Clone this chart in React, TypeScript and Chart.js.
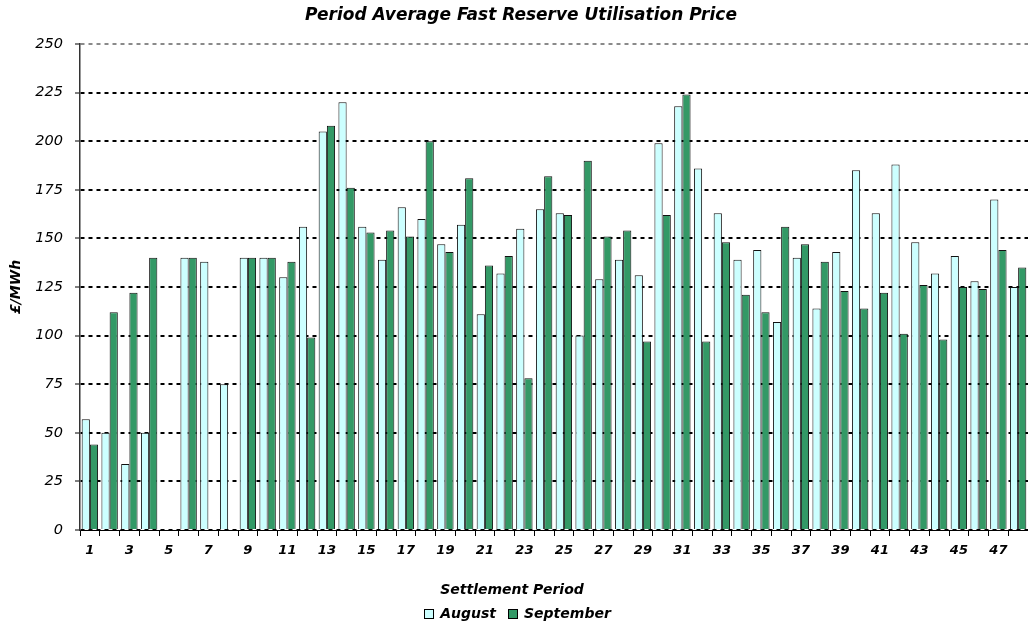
import React, { useEffect, useRef } from 'react';
import { Chart, registerables } from 'chart.js';

Chart.register(...registerables);

const chartTitle = 'Period Average Fast Reserve Utilisation Price';
const xAxisTitle = 'Settlement Period';
const yAxisTitle = '£/MWh';

const categories = [
  '1', '2', '3', '4', '5', '6', '7', '8', '9', '10', '11', '12',
  '13', '14', '15', '16', '17', '18', '19', '20', '21', '22', '23', '24',
  '25', '26', '27', '28', '29', '30', '31', '32', '33', '34', '35', '36',
  '37', '38', '39', '40', '41', '42', '43', '44', '45', '46', '47', '48',
];

const shownTickLabels = [
  '1', '3', '5', '7', '9', '11', '13', '15', '17', '19', '21', '23',
  '25', '27', '29', '31', '33', '35', '37', '39', '41', '43', '45', '47',
];

const august = [
  57, 50, 34, 50, null, 140, 138, 75, 140, 140, 130, 156,
  205, 220, 156, 139, 166, 160, 147, 157, 111, 132, 155, 165,
  163, 100, 129, 139, 131, 199, 218, 186, 163, 139, 144, 107,
  140, 114, 143, 185, 163, 188, 148, 132, 141, 128, 170, 125,
];

const september = [
  44, 112, 122, 140, null, 140, null, null, 140, 140, 138, 99,
  208, 176, 153, 154, 151, 200, 143, 181, 136, 141, 78, 182,
  162, 190, 151, 154, 97, 162, 224, 97, 148, 121, 112, 156,
  147, 138, 123, 114, 122, 101, 126, 98, 125, 124, 144, 135,
];

const seriesNames = ['August', 'September'];
const seriesColors = ['#CCFFFF', '#339966'];

const yMin = 0;
const yMax = 250;
const yStep = 25;

const FONT = '"DejaVu Sans", sans-serif';

const annotatePlugin = {
  id: 'annotate',
  afterDraw(chart: any) {
    const ctx = chart.ctx as CanvasRenderingContext2D;
    ctx.save();
    ctx.fillStyle = '#000';
    ctx.textBaseline = 'middle';
    ctx.textAlign = 'center';
    ctx.font = `italic bold 17px ${FONT}`;
    ctx.fillText(chartTitle, 521, 16);
    ctx.font = `italic bold 14px ${FONT}`;
    ctx.fillText(xAxisTitle, 512, 590);

    // legend
    const box = 10;
    const gapText = 6;
    const gapItem = 12;
    const widths = seriesNames.map((n) => ctx.measureText(n).width);
    const total = widths.reduce((a, w) => a + box + gapText + w, 0) + gapItem * (seriesNames.length - 1);
    let x = 517.5 - total / 2;
    const cy = 614;
    ctx.textAlign = 'left';
    seriesNames.forEach((n, i) => {
      ctx.fillStyle = seriesColors[i];
      ctx.fillRect(x, cy - box / 2, box, box);
      ctx.strokeStyle = '#000';
      ctx.lineWidth = 1;
      ctx.strokeRect(Math.round(x) + 0.5, Math.round(cy - box / 2) + 0.5, box - 1, box - 1);
      ctx.fillStyle = '#000';
      ctx.fillText(n, x + box + gapText, cy);
      x += box + gapText + widths[i] + gapItem;
    });
    ctx.restore();
  },
};

export default function App() {
  const canvasRef = useRef<HTMLCanvasElement | null>(null);

  useEffect(() => {
    if (!canvasRef.current) return;
    const chart = new Chart(canvasRef.current, {
      type: 'bar',
      data: {
        labels: categories,
        datasets: [
          {
            label: seriesNames[0],
            data: august,
            backgroundColor: seriesColors[0],
            borderColor: '#111',
            borderWidth: 1,
            categoryPercentage: 0.83,
            barPercentage: 1.0,
          },
          {
            label: seriesNames[1],
            data: september,
            backgroundColor: seriesColors[1],
            borderColor: '#111',
            borderWidth: 1,
            categoryPercentage: 0.83,
            barPercentage: 1.0,
          },
        ],
      },
      options: {
        responsive: false,
        animation: false,
        layout: { padding: { top: 44, left: 0, right: 0, bottom: 0 } },
        plugins: {
          legend: { display: false },
          title: { display: false },
          tooltip: { enabled: false },
        },
        scales: {
          x: {
            type: 'category',
            offset: true,
            afterFit: (scale: any) => {
              scale.height = 97;
            },
            grid: {
              display: true,
              drawOnChartArea: false,
              drawTicks: true,
              tickLength: 6,
              offset: true,
              color: '#000',
            },
            border: { display: true, color: '#000', width: 1 },
            ticks: {
              autoSkip: false,
              maxRotation: 0,
              minRotation: 0,
              padding: 7,
              color: '#000',
              font: { family: FONT, size: 13, style: 'italic', weight: 'bold' },
              callback: (_v: any, i: number) =>
                shownTickLabels.includes(categories[i]) ? categories[i] : '',
            },
          },
          y: {
            min: yMin,
            max: yMax,
            afterFit: (scale: any) => {
              scale.width = 80;
            },
            ticks: {
              stepSize: yStep,
              padding: 12,
              color: '#000',
              font: { family: FONT, size: 14.5, style: 'italic', weight: 'normal' },
            },
            grid: {
              color: (c: any) => (c.tick && c.tick.value === yMax ? '#8a8a8a' : '#000'),
              lineWidth: 2,
              drawTicks: true,
              tickLength: 5,
              tickBorderDash: [],
              tickColor: '#000',
              tickWidth: 1,
            },
            border: { display: true, color: '#333', width: 1.5, dash: [4, 4] },
            title: {
              display: true,
              text: yAxisTitle,
              color: '#000',
              padding: { top: 8, bottom: 0 },
              font: { family: FONT, size: 14, style: 'italic', weight: 'bold' },
            },
          },
        },
      },
      plugins: [annotatePlugin],
    });
    return () => chart.destroy();
  }, []);

  return (
    <div style={{ position: 'absolute', left: 0, top: 0, width: 1028, height: 627, background: '#fff' }}>
      <canvas ref={canvasRef} width={1028} height={627} style={{ display: 'block' }} />
    </div>
  );
}
